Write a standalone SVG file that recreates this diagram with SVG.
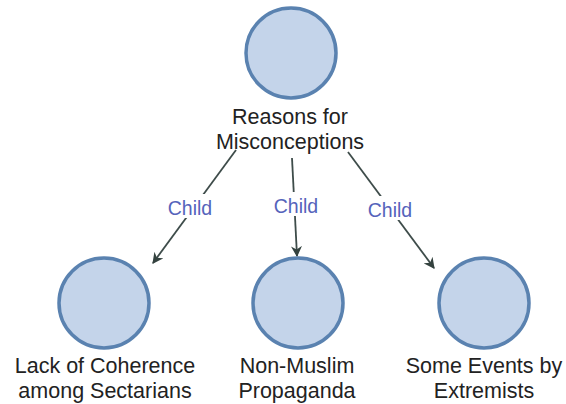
<svg xmlns="http://www.w3.org/2000/svg" width="566" height="404" viewBox="0 0 566 404">
<defs>
<marker id="arr" viewBox="0 0 10 10" refX="9" refY="5" markerWidth="11" markerHeight="11" markerUnits="userSpaceOnUse" orient="auto">
<path d="M0,0 L10,5 L0,10 L3,5 Z" fill="#34423f"/>
</marker>
<style>
.node circle{fill:#c4d4ea;stroke:#5a82b0;stroke-width:3.5}
.lbl{font-family:"Liberation Sans",Arial,sans-serif;font-size:21.5px;fill:#222;text-anchor:middle}
.edge{stroke:#3e4c4a;stroke-width:1.8;fill:none;marker-end:url(#arr)}
.el{font-family:"Liberation Sans",Arial,sans-serif;font-size:19.5px;fill:#5563bb;text-anchor:middle}
</style>
</defs>
<rect width="566" height="404" fill="#fff"/>
<g id="connectors">
<line class="edge" x1="236" y1="150" x2="153" y2="263"/>
<line class="edge" x1="292" y1="158" x2="297" y2="256"/>
<line class="edge" x1="348" y1="152" x2="434" y2="268"/>
<rect x="166" y="194" width="48" height="24" fill="#fff"/>
<rect x="270" y="192" width="52" height="24" fill="#fff"/>
<rect x="364" y="196" width="52" height="24" fill="#fff"/>
<text class="el" x="190" y="215">Child</text>
<text class="el" x="296" y="213">Child</text>
<text class="el" x="390" y="217">Child</text>
</g>
<g id="n0" class="node">
<circle cx="291" cy="53" r="45"/>
<text class="lbl" x="290" y="124">Reasons for</text>
<text class="lbl" x="290" y="149">Misconceptions</text>
</g>
<g id="n1" class="node">
<circle cx="104" cy="303" r="45"/>
<text class="lbl" x="105" y="373">Lack of Coherence</text>
<text class="lbl" x="105" y="398">among Sectarians</text>
</g>
<g id="n2" class="node">
<circle cx="298" cy="303" r="45"/>
<text class="lbl" x="297" y="373">Non-Muslim</text>
<text class="lbl" x="297" y="398">Propaganda</text>
</g>
<g id="n3" class="node">
<circle cx="484" cy="303" r="45"/>
<text class="lbl" x="484" y="373">Some Events by</text>
<text class="lbl" x="484" y="398">Extremists</text>
</g>
</svg>
